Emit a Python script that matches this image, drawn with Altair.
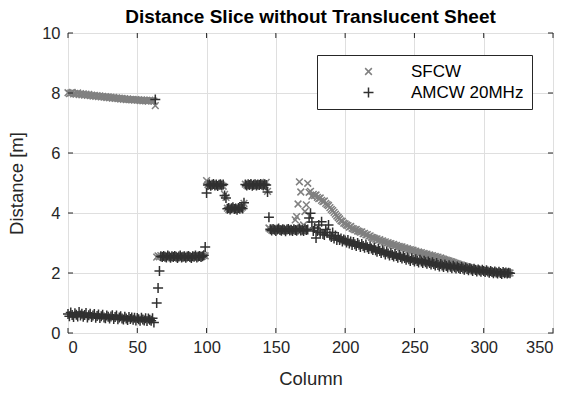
import altair as alt
import pandas as pd

SERIES = ["SFCW", "AMCW 20MHz"]
X_TICKS = [0, 50, 100, 150, 200, 250, 300, 350]
Y_TICKS = [0, 2, 4, 6, 8, 10]
COLUMNS = list(range(320))

SFCW = [
    8.01, 7.98, 8.00, 8.02, 7.97, 7.99, 7.96, 8.00, 7.95, 7.98,
    7.94, 7.97, 7.93, 7.96, 7.92, 7.95, 7.91, 7.93, 7.90, 7.92,
    7.89, 7.91, 7.88, 7.90, 7.87, 7.89, 7.86, 7.88, 7.85, 7.87,
    7.84, 7.86, 7.83, 7.85, 7.82, 7.84, 7.81, 7.83, 7.80, 7.82,
    7.79, 7.81, 7.78, 7.80, 7.78, 7.79, 7.77, 7.79, 7.76, 7.78,
    7.76, 7.77, 7.75, 7.77, 7.74, 7.76, 7.74, 7.75, 7.73, 7.76,
    7.74, 7.75, 7.73,
    7.58,
    2.53,
    2.57, 2.54, 2.58, 2.55, 2.53, 2.56, 2.58, 2.54, 2.52, 2.57,
    2.55, 2.53, 2.56, 2.51, 2.54, 2.57, 2.53, 2.55, 2.52, 2.56,
    2.54, 2.51, 2.55, 2.53, 2.57, 2.52, 2.54, 2.56, 2.53, 2.55,
    2.58, 2.54, 2.56, 2.59, 2.57,
    5.08,
    4.95, 4.92, 4.96, 4.93, 4.90, 4.94, 4.97, 4.92, 4.95, 4.91, 4.93, 4.89,
    4.62, 4.52,
    4.16, 4.12, 4.18, 4.14, 4.11, 4.17, 4.13, 4.15, 4.19, 4.12, 4.16, 4.20,
    4.32,
    4.96, 4.93, 4.97, 4.94, 4.91, 4.95, 4.98, 4.93, 4.96, 4.92, 4.95, 4.97,
    4.93, 4.96, 4.94, 5.02,
    4.72,
    3.50,
    3.46, 3.43, 3.47, 3.44, 3.42, 3.46, 3.48, 3.43, 3.45, 3.41, 3.44, 3.47,
    3.43, 3.45, 3.42, 3.46, 3.44, 3.48,
    3.77, 3.88, 4.30, 5.04, 4.70, 3.52, 3.60, 4.05, 4.27, 4.99, 4.69, 4.72, 4.56,
    4.62, 4.58, 4.60, 4.52, 4.48, 4.50, 4.42, 4.38, 4.40, 4.32, 4.28, 4.25,
    4.18, 4.12, 4.08, 4.02, 3.96, 3.90, 3.85, 3.80, 3.74, 3.72, 3.66, 3.64,
    3.60, 3.58, 3.53, 3.55, 3.49, 3.47, 3.44, 3.45, 3.40, 3.39,
    3.36, 3.37, 3.31, 3.32, 3.27, 3.28, 3.22, 3.24, 3.19, 3.18,
    3.16, 3.13, 3.14, 3.09, 3.11, 3.06, 3.07, 3.03, 3.04, 2.99,
    3.01, 2.97, 2.98, 2.94, 2.95, 2.91, 2.92, 2.88, 2.89, 2.86,
    2.87, 2.83, 2.84, 2.80, 2.81, 2.77, 2.78, 2.75, 2.76, 2.72,
    2.73, 2.69, 2.70, 2.67, 2.68, 2.64, 2.65, 2.62, 2.63, 2.59,
    2.60, 2.57, 2.58, 2.54, 2.55, 2.52, 2.53, 2.49, 2.50, 2.47,
    2.46, 2.44, 2.43, 2.41, 2.40, 2.38, 2.37, 2.35, 2.33, 2.32,
    2.30, 2.29, 2.27, 2.26, 2.24, 2.23, 2.21, 2.20, 2.19, 2.17,
    2.16, 2.15, 2.14, 2.13, 2.12, 2.11, 2.10, 2.09, 2.09, 2.08,
    2.07, 2.06, 2.06, 2.05, 2.05, 2.04, 2.04, 2.03, 2.03, 2.02,
    2.02, 2.02, 2.01, 2.01, 2.01, 2.00, 2.00, 2.00, 2.00,
]

AMCW = [
    0.63, 0.56, 0.68, 0.60, 0.53, 0.66, 0.61, 0.55, 0.70, 0.58,
    0.64, 0.54, 0.60, 0.67, 0.52, 0.59, 0.64, 0.53, 0.58, 0.63,
    0.51, 0.57, 0.62, 0.50, 0.56, 0.61, 0.52, 0.49, 0.58, 0.54,
    0.48, 0.55, 0.59, 0.47, 0.53, 0.58, 0.46, 0.52, 0.56, 0.48,
    0.45, 0.54, 0.48, 0.43, 0.53, 0.47, 0.52, 0.44, 0.51, 0.42,
    0.50, 0.46, 0.41, 0.51, 0.45, 0.42, 0.49, 0.40, 0.48, 0.44,
    0.41, 0.49, 0.35,
    7.78,
    1.00, 1.50, 2.07,
    2.56, 2.53, 2.57, 2.54, 2.52, 2.58, 2.55, 2.51, 2.56, 2.53,
    2.57, 2.54, 2.50, 2.55, 2.58, 2.52, 2.54, 2.56, 2.51, 2.55,
    2.57, 2.53, 2.50, 2.56, 2.54, 2.58, 2.52, 2.55, 2.57, 2.53,
    2.56, 2.59,
    2.87, 4.67,
    4.93, 4.96, 4.91, 4.94, 4.97, 4.92, 4.95, 4.90, 4.94, 4.96, 4.92, 4.95,
    4.58, 4.50,
    4.14, 4.17, 4.12, 4.16, 4.19, 4.13, 4.15, 4.11, 4.17, 4.14, 4.18, 4.15,
    4.34,
    4.95, 4.92, 4.96, 4.93, 4.97, 4.91, 4.94, 4.96, 4.92, 4.95, 4.93, 4.97,
    4.94, 4.92, 4.96, 4.93,
    4.70,
    3.86,
    3.46, 3.42, 3.47, 3.44, 3.40, 3.45, 3.48, 3.43, 3.41, 3.46,
    3.44, 3.39, 3.45, 3.47, 3.42, 3.44, 3.40, 3.46, 3.43, 3.41,
    3.45, 3.48, 3.42, 3.44, 3.40, 3.46, 3.43,
    3.45, 3.83, 3.99, 3.70, 3.40, 3.50, 3.17, 3.40, 3.60, 3.35,
    3.71, 3.30, 3.27, 3.45, 3.35, 3.60, 3.25, 3.20, 3.35, 3.15,
    3.25, 3.10, 3.20, 3.10, 3.15, 3.05, 3.12, 3.08,
    3.02, 3.10, 2.98, 3.05, 2.93, 3.03, 2.96, 2.90, 3.00, 2.94,
    2.87, 2.97, 2.90, 2.84, 2.93, 2.86, 2.80, 2.89, 2.82, 2.77,
    2.85, 2.76, 2.71, 2.80, 2.73, 2.67, 2.76, 2.69, 2.62, 2.71,
    2.65, 2.58, 2.67, 2.60, 2.55, 2.63, 2.57, 2.51, 2.60, 2.53,
    2.48, 2.56, 2.50, 2.44, 2.52, 2.46, 2.40, 2.49, 2.43, 2.38,
    2.46, 2.40, 2.35, 2.44, 2.38, 2.33, 2.41, 2.36, 2.31, 2.38,
    2.33, 2.28, 2.36, 2.30, 2.25, 2.33, 2.27, 2.22, 2.30, 2.25,
    2.20, 2.28, 2.23, 2.18, 2.26, 2.21, 2.16, 2.24, 2.19, 2.15,
    2.22, 2.17, 2.13, 2.20, 2.15, 2.11, 2.18, 2.13, 2.09, 2.16,
    2.12, 2.07, 2.14, 2.10, 2.05, 2.12, 2.08, 2.04, 2.11, 2.07,
    2.03, 2.09, 2.05, 2.01, 2.07, 2.03, 1.99, 2.05, 2.02, 1.98,
    2.04, 2.00, 1.97, 2.03, 1.99, 2.02, 1.98, 2.01, 1.99,
]

FONT = "Liberation Sans"
TXT = "#262626"
CROSS = "M-1,-1L1,1M-1,1L1,-1"
PLUS = "M-1,0L1,0M0,-1L0,1"

df = pd.DataFrame({
    "Column": COLUMNS[:len(SFCW)] + COLUMNS[:len(AMCW)],
    "Distance": SFCW + AMCW,
    "Series": [SERIES[0]] * len(SFCW) + [SERIES[1]] * len(AMCW),
})

xscale = alt.Scale(domain=[0, 350], nice=False)
yscale = alt.Scale(domain=[0, 10], nice=False)

leg = alt.Legend(
    title=None, orient="none", legendX=249, legendY=22,
    strokeColor=TXT, fillColor="white", padding=8, cornerRadius=0,
    symbolOffset=35, labelOffset=34, rowPadding=3,
    labelFont=FONT, labelFontSize=17, labelColor="black",
    symbolStrokeWidth=1.5, symbolType=PLUS,
)

ax_common = dict(labelFont=FONT, labelFontSize=16.5, labelColor=TXT, titleFont=FONT,
                 titleFontSize=18.5, titleFontWeight="normal", titleColor=TXT,
                 tickSize=0, domain=False, gridColor="#dfdfdf", gridWidth=1, grid=True)

points = alt.Chart(df).mark_point(filled=False, strokeWidth=1.5, opacity=1).encode(
    x=alt.X("Column:Q", scale=xscale, title="Column",
            axis=alt.Axis(values=X_TICKS, labelPadding=6, titlePadding=14, **ax_common)),
    y=alt.Y("Distance:Q", scale=yscale, title="Distance [m]",
            axis=alt.Axis(values=Y_TICKS, labelPadding=8, titlePadding=15, **ax_common)),
    color=alt.Color("Series:N", scale=alt.Scale(domain=SERIES, range=["#808080", "#303030"]), legend=leg),
    shape=alt.Shape("Series:N", scale=alt.Scale(domain=SERIES, range=[CROSS, PLUS]), legend=leg),
    size=alt.Size("Series:N", scale=alt.Scale(domain=SERIES, range=[45, 100]), legend=leg),
)

xt = pd.DataFrame({"t": X_TICKS})
yt = pd.DataFrame({"t": Y_TICKS})
tick_style = dict(color=TXT, strokeWidth=1)
xb = alt.Chart(xt).mark_rule(**tick_style).encode(x=alt.X("t:Q", scale=xscale), y=alt.value(300), y2=alt.value(295))
xtop = alt.Chart(xt).mark_rule(**tick_style).encode(x=alt.X("t:Q", scale=xscale), y=alt.value(0), y2=alt.value(5))
yl = alt.Chart(yt).mark_rule(**tick_style).encode(y=alt.Y("t:Q", scale=yscale), x=alt.value(0), x2=alt.value(5))
yr = alt.Chart(yt).mark_rule(**tick_style).encode(y=alt.Y("t:Q", scale=yscale), x=alt.value(485), x2=alt.value(480))

chart = alt.layer(points, xb, xtop, yl, yr).properties(
    width=485, height=300,
    background="white",
    title=alt.TitleParams("Distance Slice without Translucent Sheet", font=FONT, fontSize=19,
                          fontWeight="bold", color="black", anchor="middle", offset=-2),
    autosize=alt.AutoSizeParams(type="none"),
    padding={"left": 68, "top": 33, "right": 16, "bottom": 61},
).configure_view(stroke=TXT, strokeWidth=1)

chart.save("out.html", embed_options={"renderer": "svg", "actions": False})
